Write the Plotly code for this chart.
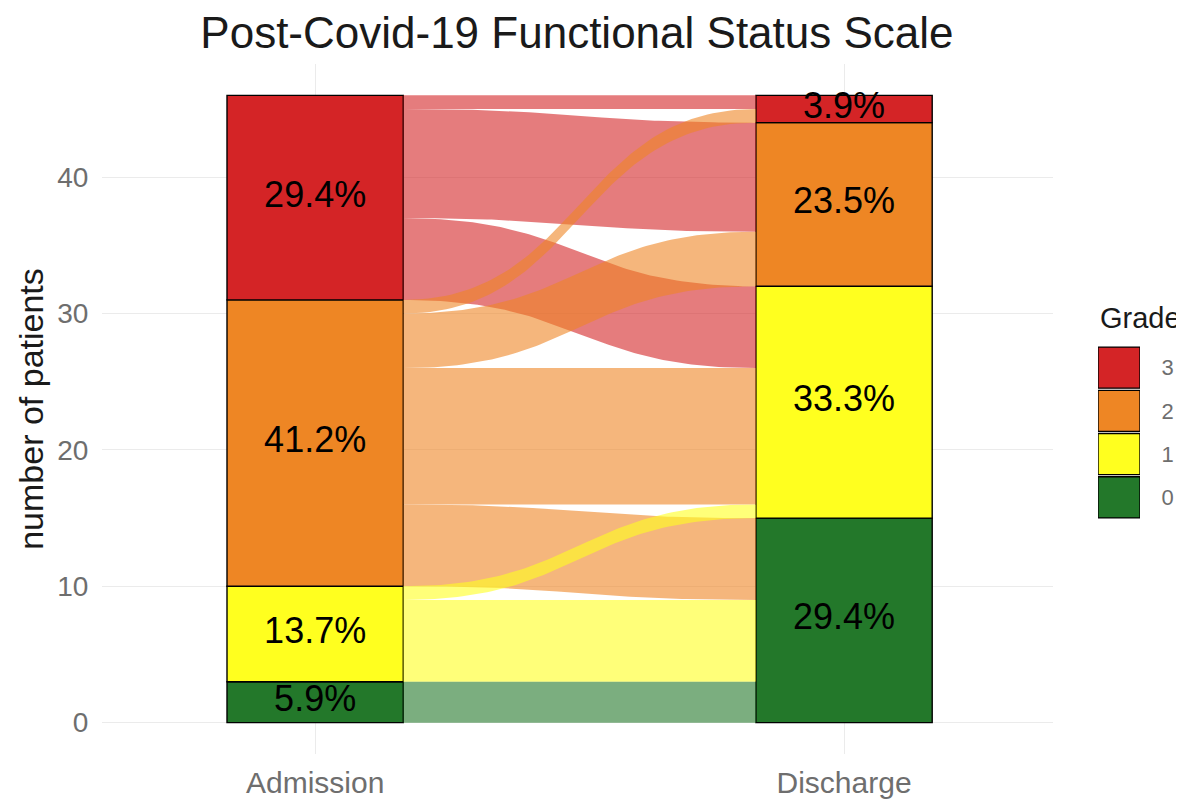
import numpy as np
import plotly.graph_objects as go

# ---------------- data ----------------
stages = ["Admission", "Discharge"]
stage_pos = [1, 2]
grades = ["0", "1", "2", "3"]
grade_colors = ["#23782A", "#FFFF1F", "#EE8624", "#D42426"]
flow_colors = ["rgba(35,120,42,0.6)", "rgba(255,255,31,0.6)",
               "rgba(238,134,36,0.6)", "rgba(212,36,38,0.6)"]
admission_counts = [3, 7, 21, 15]
discharge_counts = [15, 17, 12, 2]
admission_pct = ["5.9%", "13.7%", "41.2%", "29.4%"]
discharge_pct = ["29.4%", "33.3%", "23.5%", "3.9%"]
flow_from = [0, 1, 1, 2, 2, 2, 2, 3, 3, 3]
flow_to = [0, 0, 1, 0, 1, 2, 3, 1, 2, 3]
flow_n = [3, 6, 1, 6, 10, 4, 1, 6, 8, 1]
y_ticks = [0, 10, 20, 30, 40]

FONT = "Liberation Sans, Arial, sans-serif"
bar_w = 1 / 3

adm = np.array(admission_counts, float)
dis = np.array(discharge_counts, float)
adm_base = np.concatenate([[0], np.cumsum(adm)[:-1]])
dis_base = np.concatenate([[0], np.cumsum(dis)[:-1]])

# flow positions at each side
n_fl = len(flow_n)
y0_lo = np.zeros(n_fl)
y1_lo = np.zeros(n_fl)
for g in range(len(grades)):
    idx = sorted([i for i in range(n_fl) if flow_from[i] == g], key=lambda i: flow_to[i])
    c = adm_base[g]
    for i in idx:
        y0_lo[i] = c
        c += flow_n[i]
    idx = sorted([i for i in range(n_fl) if flow_to[i] == g], key=lambda i: flow_from[i])
    c = dis_base[g]
    for i in idx:
        y1_lo[i] = c
        c += flow_n[i]

fig = go.Figure()

xa = stage_pos[0] + bar_w / 2
xb = stage_pos[1] - bar_w / 2
t = np.linspace(0, 1, 80)
k = 0.5
bx = ((1 - t) ** 3 * xa + 3 * (1 - t) ** 2 * t * (xa + k * (xb - xa))
      + 3 * (1 - t) * t ** 2 * (xb - k * (xb - xa)) + t ** 3 * xb)
w0 = (1 - t) ** 3 + 3 * (1 - t) ** 2 * t
w1 = 3 * (1 - t) * t ** 2 + t ** 3

order = sorted(range(n_fl), key=lambda i: -flow_from[i])
for i in order:
    n = flow_n[i]
    lo = y0_lo[i] * w0 + y1_lo[i] * w1
    hi = (y0_lo[i] + n) * w0 + (y1_lo[i] + n) * w1
    xs = np.concatenate([bx, bx[::-1]])
    ys = np.concatenate([hi, lo[::-1]])
    fig.add_trace(go.Scatter(x=xs, y=ys, mode="lines", fill="toself",
                             fillcolor=flow_colors[flow_from[i]],
                             line=dict(width=0), hoverinfo="skip",
                             showlegend=False))

# strata
for pos, counts, base, labels in [(stage_pos[0], adm, adm_base, admission_pct),
                                  (stage_pos[1], dis, dis_base, discharge_pct)]:
    fig.add_trace(go.Bar(x=[pos] * len(grades), y=counts, base=base, width=bar_w,
                         marker=dict(color=grade_colors, line=dict(color="black", width=1.4)),
                         showlegend=False, hoverinfo="skip"))
    fig.add_trace(go.Scatter(x=[pos] * len(grades), y=base + counts / 2, mode="text",
                             text=labels,
                             textfont=dict(family=FONT, size=36, color="black"),
                             showlegend=False, hoverinfo="skip"))

# legend built as a small bar chart on its own axes
key_h = 0.95
fig.add_trace(go.Bar(x=[0] * len(grades), y=[key_h] * len(grades),
                     base=[i + (1 - key_h) / 2 for i in range(len(grades))],
                     width=1, marker=dict(color=grade_colors, line=dict(color="black", width=1.4)),
                     xaxis="x2", yaxis="y2", showlegend=False, hoverinfo="skip"))

fig.update_layout(
    width=1176, height=792,
    margin=dict(l=94, r=10, t=56, b=46, autoexpand=False),
    paper_bgcolor="white", plot_bgcolor="white",
    barmode="overlay",
    title=dict(text="Post-Covid-19 Functional Status Scale", x=0.4838, xref="container",
               y=0.9885, yref="container", xanchor="center", yanchor="top",
               font=dict(family=FONT, size=44, color="#1a1a1a")),
    xaxis=dict(domain=[0, 0.8871], range=[0.597, 2.395], tickvals=stage_pos, ticktext=stages,
               showgrid=True, gridcolor="#EBEBEB", gridwidth=1, zeroline=False,
               automargin=False,
               ticks="outside", ticklen=2, tickcolor="rgba(0,0,0,0)",
               tickfont=dict(family=FONT, size=30, color="#6e6e6e")),
    yaxis=dict(range=[-2.3, 48.3], tickvals=y_ticks, showgrid=True, gridcolor="#EBEBEB",
               gridwidth=1, zeroline=False, ticks="outside", ticklen=7,
               automargin=False,
               tickcolor="rgba(0,0,0,0)",
               tickfont=dict(family=FONT, size=28, color="#6e6e6e"),
               title=dict(text="number of patients", standoff=3,
                          font=dict(family=FONT, size=34, color="#1a1a1a"))),
    xaxis2=dict(domain=[0.9291, 0.9683], range=[-0.5, 0.5], anchor="y2",
                visible=False, fixedrange=True, automargin=False),
    yaxis2=dict(domain=[0.3406, 0.5913], range=[0, len(grades)], anchor="x2", side="right",
                tickvals=[i + 0.5 for i in range(len(grades))], ticktext=grades,
                showgrid=False, zeroline=False, showline=False, automargin=False,
                ticks="outside", ticklen=16, tickcolor="rgba(0,0,0,0)",
                tickfont=dict(family=FONT, size=22, color="#6e6e6e")),
    annotations=[dict(text="Grade", xref="x2 domain", yref="y2 domain", x=0, y=1,
                      xanchor="left", yanchor="bottom", yshift=10, showarrow=False,
                      font=dict(family=FONT, size=29, color="#1a1a1a"))],
)

fig.write_html("out.html")
